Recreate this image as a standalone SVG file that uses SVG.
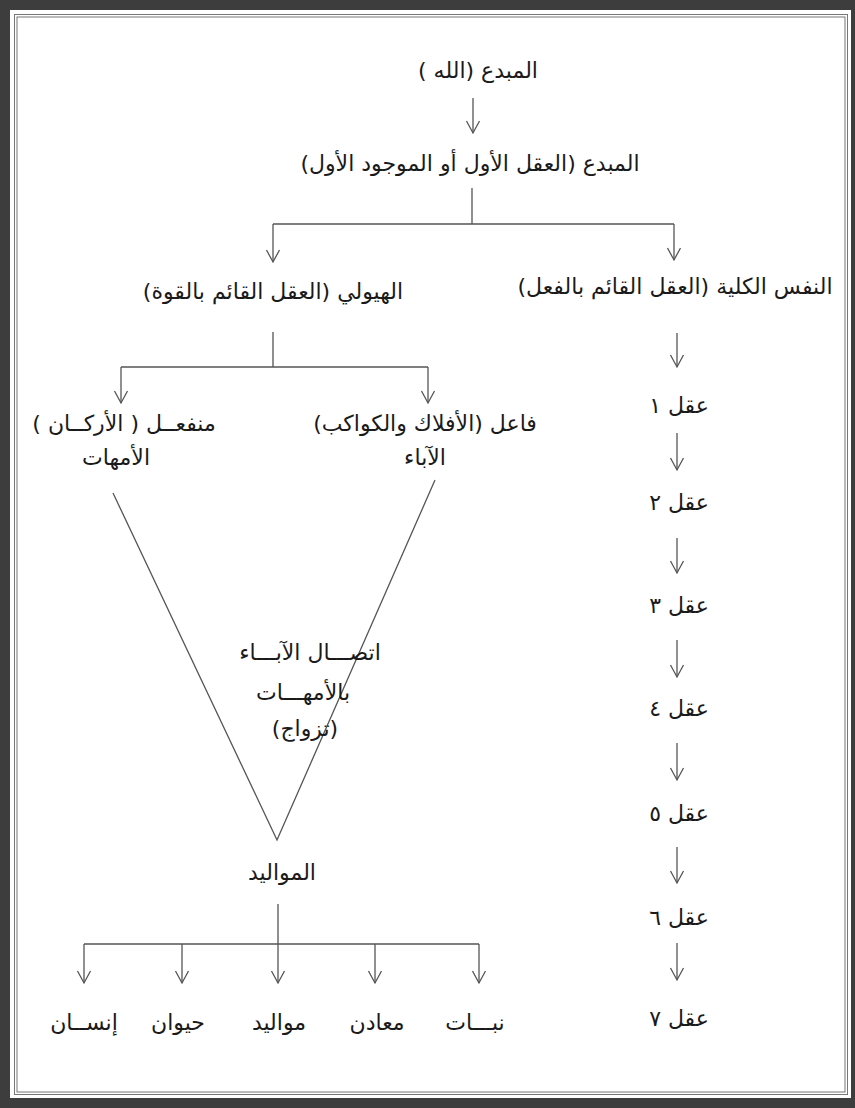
<svg xmlns="http://www.w3.org/2000/svg" width="855" height="1108" viewBox="0 0 855 1108">
<style>
.t{font-family:"DejaVu Sans",sans-serif;font-size:22px;fill:#1a1a1a;text-anchor:middle;dominant-baseline:central;direction:rtl}
.c{fill:none;stroke:#555;stroke-width:1.3}
.f{fill:none;stroke:#777;stroke-width:1}
</style>
<defs>
<marker id="arr" markerUnits="userSpaceOnUse" markerWidth="20" markerHeight="20" refX="0" refY="0" orient="auto" overflow="visible">
<path d="M-12,-6.5 L0,0 L-12,6.5" fill="none" stroke="#555" stroke-width="1.3"/>
</marker>
</defs>
<rect x="0" y="0" width="855" height="1108" fill="#3d3d3d"/>
<rect x="10" y="10" width="841" height="1088" fill="#fff"/>
<rect x="14.5" y="14.5" width="833" height="1080" class="f"/>
<rect x="17" y="17" width="828" height="1075" class="f"/>
<g id="connectors">
<path class="c" d="M473,98 V133" marker-end="url(#arr)"/>
<path class="c" d="M472,188 V224 M273,224 H674"/>
<path class="c" d="M273,224 V262" marker-end="url(#arr)"/>
<path class="c" d="M674,224 V260" marker-end="url(#arr)"/>
<path class="c" d="M677,333 V367" marker-end="url(#arr)"/>
<path class="c" d="M677,433 V470" marker-end="url(#arr)"/>
<path class="c" d="M677,538 V573" marker-end="url(#arr)"/>
<path class="c" d="M677,640 V677" marker-end="url(#arr)"/>
<path class="c" d="M677,743 V780" marker-end="url(#arr)"/>
<path class="c" d="M677,847 V883" marker-end="url(#arr)"/>
<path class="c" d="M677,943 V980" marker-end="url(#arr)"/>
<path class="c" d="M273,332 V367 M121,367 H428"/>
<path class="c" d="M121,367 V403" marker-end="url(#arr)"/>
<path class="c" d="M428,367 V403" marker-end="url(#arr)"/>
<path class="c" d="M113,493 L277,840 L435,480"/>
<path class="c" d="M278,904 V944 M84,944 H479"/>
<path class="c" d="M84,944 V983" marker-end="url(#arr)"/>
<path class="c" d="M182,944 V983" marker-end="url(#arr)"/>
<path class="c" d="M278,944 V983" marker-end="url(#arr)"/>
<path class="c" d="M375,944 V983" marker-end="url(#arr)"/>
<path class="c" d="M479,944 V983" marker-end="url(#arr)"/>
</g>
<g id="n-mubdi"><text class="t" x="478" y="70">المبدع (الله )</text></g>
<g id="n-aql-awwal"><text class="t" x="470" y="163">المبدع (العقل الأول أو الموجود الأول)</text></g>
<g id="n-hayula"><text class="t" x="273" y="291">الهيولي (العقل القائم بالقوة)</text></g>
<g id="n-nafs"><text class="t" x="675" y="286">النفس الكلية (العقل القائم بالفعل)</text></g>
<g id="n-aql1"><text class="t" x="679" y="405">عقل ١</text></g>
<g id="n-aql2"><text class="t" x="679" y="502">عقل ٢</text></g>
<g id="n-aql3"><text class="t" x="679" y="605">عقل ٣</text></g>
<g id="n-aql4"><text class="t" x="679" y="708">عقل ٤</text></g>
<g id="n-aql5"><text class="t" x="679" y="813">عقل ٥</text></g>
<g id="n-aql6"><text class="t" x="679" y="917">عقل ٦</text></g>
<g id="n-aql7"><text class="t" x="679" y="1018">عقل ٧</text></g>
<g id="n-munfail"><text class="t" x="124" y="423">منفعــل ( الأركــان )</text><text class="t" x="116" y="457">الأمهات</text></g>
<g id="n-fail"><text class="t" x="425" y="423">فاعل (الأفلاك والكواكب)</text><text class="t" x="425" y="457">الآباء</text></g>
<g id="n-ittisal"><text class="t" x="310" y="652">اتصـــال الآبـــاء</text><text class="t" x="303" y="692">بالأمهـــات</text><text class="t" x="305" y="728">(تزواج)</text></g>
<g id="n-mawalid"><text class="t" x="282" y="872">المواليد</text></g>
<g id="n-nabat"><text class="t" x="475" y="1022">نبـــات</text></g>
<g id="n-maadin"><text class="t" x="377" y="1022">معادن</text></g>
<g id="n-mawalid2"><text class="t" x="279" y="1022">مواليد</text></g>
<g id="n-hayawan"><text class="t" x="178" y="1022">حيوان</text></g>
<g id="n-insan"><text class="t" x="84" y="1022">إنســان</text></g>
</svg>
